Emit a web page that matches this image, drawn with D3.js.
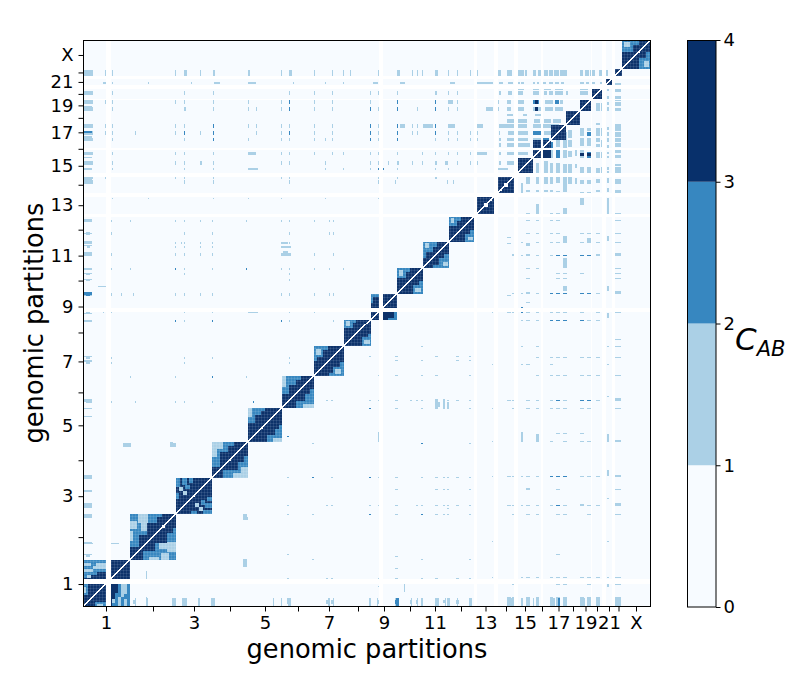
<!DOCTYPE html>
<html><head><meta charset="utf-8">
<script src="https://cdn.jsdelivr.net/npm/d3@7"></script>
<style>html,body{margin:0;background:#fff}text{font-family:"DejaVu Sans",sans-serif;fill:#000}</style>
</head><body><div id="c"></div>
<script>
const partitions = 568, binSize = 1;
const chromNames = ["1","","3","","5","","7","","9","","11","","13","","15","","17","","19","","21","","X"];
const chromCentres = [23,70,111,147,182,215,246,275,301,327,352,378,402.5,423,442,459,475.5,490,502.5,514,526,535.5,553];
const cbTicks = [0,1,2,3,4];
const blocks = [[0,23,0,23],[0,23,28,47],[28,47,28,47],[47,93,47,93],[93,129,93,129],[129,165,129,165],[165,199,165,199],[199,231,199,231],[231,261,231,261],[261,288,261,288],[288,296,288,296],[288,296,300,314],[300,314,300,314],[314,340,314,340],[340,366,340,366],[366,391,366,391],[394,411,394,411],[415,431,415,431],[435,450,435,450],[450,458,450,458],[450,458,460,468],[460,468,460,468],[468,483,468,483],[483,497,483,497],[497,508,497,508],[509,519,509,519],[523,529,523,529],[532,539,532,539],[539,568,539,568]];
// [x0,x1,y0,y1,level] lighter patches inside the chromosome blocks
const patches = [[0,23,44,47,2],[0,8,41,44,1],[8,13,41,44,2],[13,23,41,44,1],[0,10,38,41,2],[10,23,38,41,1],[0,10,35,38,1],[10,23,35,38,2],[0,14,32,35,2],[0,4,29,32,2],[4,8,29,32,1],[0,5,12,23,2],[0,3,14,20,1],
[47,56,60,72,2],[47,64,72,93,2],[64,74,84,93,2],[74,79,90,93,2],[55,65,84,93,1],[47,54,78,86,1],[58,64,76,84,1],[47,50,66,76,1],
[93,97,120,129,2],[99,104,122,129,2],[96,100,116,120,1],[106,110,124,129,2],[93,96,108,114,2],[100,104,112,116,1],[102,107,118,122,2],
[129,137,140,165,2],[137,145,155,165,2],[145,151,161,165,2],[129,134,150,165,1],[134,140,158,165,1],
[165,172,184,199,2],[172,178,192,199,2],[165,169,190,199,1],[178,182,196,199,2],
[199,206,213,231,2],[206,213,222,231,2],[199,203,220,231,1],[213,218,227,231,2],
[231,240,250,261,2],[233,238,252,258,1],[240,245,257,261,2],[231,234,246,250,2],
[261,270,279,288,2],[263,267,281,287,1],[270,273,285,288,2],
[288,296,311,314,2],[288,290,305,311,2],
[314,323,330,340,2],[316,320,332,338,1],[323,327,336,340,2],
[340,350,356,366,2],[342,346,360,365,1],[350,354,361,366,2],[340,343,350,356,2],
[366,374,382,391,2],[368,371,385,390,1],[374,378,387,391,2],
[539,550,556,568,2],[541,547,561,566,1],[550,556,563,568,2]];
// [row0,row1,[light single columns],[medium single columns],[[c0,c1,level] spans]]
const contacts = [
[532,538,[22,29,92,117,198,231,249,260,267,295,329,334,339,365,374,387,394],[],[[0,10,1],[101,104,1],[130,132,1],[165,167,1],[206,209,1],[314,317,1],[352,355,1],[415,418,1],[424,429,1],[435,441,1],[442,444,1],[450,453,1],[455,458,1],[461,465,1],[466,470,1],[471,476,1],[477,484,1],[497,500,1],[502,506,1],[507,512,1],[516,519,1],[523,525,1]]],
[524,526,[29,65,108,242,260,210],[],[[20,23,1],[131,137,1],[165,173,1],[290,295,1],[317,322,1],[367,372,1],[394,410,1],[416,420,1],[425,430,1],[435,437,1],[438,441,1],[450,452,1],[454,456,1],[460,463,1],[466,470,1],[472,476,1],[478,481,1],[497,501,1],[503,506,1],[508,512,1],[517,519,1]]],
[518,521,[],[],[[435,441,1],[450,456,1],[461,468,1],[472,480,1],[497,505,1]]],
[513,517,[29,101,130,206,231,249,287,295,314,365,374],[],[[0,10,1],[352,354,1],[416,418,1],[425,429,1],[435,440,1],[450,456,1],[461,464,1],[466,470,1],[472,480,1],[483,485,1],[497,505,1]]],
[504,508,[22,29,92,101,130,165,198,231,249,287,365,374,415],[206,314,352],[[0,10,1],[366,370,1],[424,428,1],[435,441,1],[450,456,2],[452,455,3],[462,470,1],[472,476,2],[477,480,1]]],
[497,501,[29,130,165,173,198,231,249,295,334,365,374,415],[206,287,314,352],[[0,10,1],[101,103,1],[403,410,1],[424,428,1],[435,441,1],[450,458,1],[452,455,3],[462,470,1],[472,480,1]]],
[492,494,[],[],[[424,430,1],[440,444,1],[452,458,1]]],
[485,489,[],[],[[424,432,1],[435,444,1],[451,457,1],[461,468,1],[470,478,1]]],
[480,484,[22,29,92,101,165,173,198,206,231,249,295,329,334],[130,352,287,314],[[0,10,1],[317,322,1],[340,350,1],[365,372,1],[394,400,1],[416,425,1],[424,433,1],[435,444,1],[450,476,1]]],
[473,477,[22,29,52,92,117,173,198,231,249,295,329,334,365,374,387,394,416],[101,130,206,287,314,352],[[0,10,1],[425,432,1],[435,445,1],[450,458,2],[461,468,1]]],
[467,470,[29,101,165,198,206,231,242,249,295,352,365,374,387,394],[130,287,314],[[0,10,1],[416,418,1],[424,432,1],[435,445,1],[450,458,1],[460,466,2]]],
[461,465,[],[],[[416,418,1],[424,432,1],[435,447,1]]],
[453,456,[29,92,101,130,198,206,231,249,260,287,295,314,339,352,365,374,387],[],[[0,10,1],[165,173,1],[394,404,1],[416,418,1],[424,432,1],[435,445,1]]],
[443,447,[29,92,101,130,198,206,242,287,295,305,329,339,374,387,394],[],[[0,10,1],[117,119,1],[314,316,1],[352,354,1],[362,365,1],[416,418,1],[424,432,1]]],
[438,440,[29,101,130,242,260,287,314,352,365],[295,300],[[0,9,1],[165,175,1],[415,425,1]]],
[429,431,[22,92,101,130,198,206,295,314],[],[[0,10,1],[352,354,1]]],
[424,428,[101,130,206,295,312,364,370],[],[[3,6,1],[0,10,1]]],
[409,410,[29,65,130,165,198,242,295],[],[]],
[386,388,[28,47,92,101,117,129,163,198,206,231,246,250],[],[[0,9,1]]],
[373,376,[28,101,129,206,246,250],[],[[3,7,1]]],
[364,366,[92,98,101,117,129,206],[],[[0,9,1],[198,205,1]]],
[360,362,[92,101,117,129],[],[[4,7,1],[198,208,1]]],
[352,355,[28,92,101,117,129,231,250],[],[[0,9,1],[198,208,1]]],
[338,340,[28,47,101,129,198,206,231,246,260],[92,163],[[0,9,1]]],
[333,335,[101,206],[],[[3,7,1]]],
[327,329,[206],[],[[3,7,1]]],
[321,322,[],[],[[15,24,1]]],
[312,315,[28,38,50,92,101,117,129,198,206,231,246,250],[],[[0,9,1],[3,7,2]]],
[295,296,[20,28,101,129,206,231],[],[[3,7,1],[165,175,1]]],
[286,288,[101,206,250],[129,198,92],[[0,9,1]]],
[248,250,[28,101,129,206],[],[[3,7,1]]],
[243,245,[28,101,206],[],[[3,7,1]]],
[229,231,[47,92,163],[129],[]],
[204,206,[28,52,92,101,129],[170],[[3,9,1]]],
[200,205,[],[],[[353,357,1]]],
[160,164,[],[],[[40,48,1],[87,93,1]]],
[87,90,[],[],[[160,165,1]]],
[128,130,[],[],[[0,9,1]]],[115,116,[],[],[[0,9,1]]],[99,102,[],[],[[0,9,1]]],[89,91,[],[],[[0,9,1]]],
[63,64,[],[],[[0,10,1],[28,36,1]]],[50,52,[],[],[[3,7,1]]],
[0,9,[52,64,116,190,198,250,286,294,328,334,339,362,366,374,431,439,450,454,480,505],[],[[91,93,1],[101,104,1],[129,132,1],[205,208,1],[245,247,1],[313,316,2],[353,356,1],[386,389,1],[424,429,1],[444,447,1],[467,472,1],[475,477,2],[497,502,1],[515,517,1],[534,538,1]]]
];
// white, unmapped stretches of the genome
const gaps = [[23,28],[296,300],[391,394],[411,415],[431,435],[458,460],[508,509],[519,523],[529,532]];
const diagSpots = [[79,82],[401,405],[421,425],[407,409],[417,419],[110,112],[146,148],[178,180],[555,557]];
const bandColors = ["#f7fbff","#abd0e6","#3787c0","#08306b"];

const margin = {left:83, top:40, w:568, h:567};
const n = partitions/binSize;
const x = d3.scaleLinear().domain([0,partitions]).range([margin.left, margin.left+margin.w]);
const y = d3.scaleLinear().domain([0,partitions]).range([margin.top+margin.h, margin.top]);
const color = d3.scaleThreshold().domain([1,2,3]).range(bandColors);

const M = Array.from({length:n},()=>new Float32Array(n));
function fill(x0,x1,y0,y1,v,onlyMax){
  for(let i=Math.floor(x0/binSize);i<Math.ceil(x1/binSize)&&i<n;i++)
    for(let j=Math.floor(y0/binSize);j<Math.ceil(y1/binSize)&&j<n;j++){
      if(onlyMax&&M[j][i]>=v) continue;
      M[j][i]=v; M[i][j]=v;
    }
}
contacts.forEach(([r0,r1,light,medium,spans])=>{
  light.forEach(c=>fill(c,c+binSize,r0,r1,1,true));
  medium.forEach(c=>fill(c,c+binSize,r0,r1,2,true));
  spans.forEach(([a,b,v])=>{ if(v>0) fill(a,b,r0,r1,v,true); });
});
blocks.forEach(b=>fill(b[0],b[1],b[2],b[3],3));
patches.forEach(p=>fill(p[0],p[1],p[2],p[3],p[4]));
gaps.forEach(g=>{fill(g[0],g[1],0,partitions,-1);});
for(let i=0;i<n;i++){ M[i][i]=-1; if(i+1<n){M[i+1][i]=-1;} }
diagSpots.forEach(([a,b])=>{for(let i=a/binSize;i<b/binSize;i++)for(let j=a/binSize;j<b/binSize;j++)M[j][i]=-1;});

const runs=[];
for(let j=0;j<n;j++){let i=0;while(i<n){const v=M[j][i];let k=i+1;while(k<n&&M[j][k]===v)k++;if(v!==0)runs.push({row:j,c0:i,c1:k,v});i=k;}}

const svg=d3.select("#c").append("svg").attr("width",800).attr("height",675).style("display","block");
const defs=svg.append("defs");
defs.append("clipPath").attr("id","pc").append("rect").attr("x",margin.left).attr("y",margin.top).attr("width",margin.w).attr("height",margin.h);
defs.append("filter").attr("id","soft").attr("x",0).attr("y",0).attr("width",1).attr("height",1)
  .append("feGaussianBlur").attr("stdDeviation",0.55);
const pat=defs.append("pattern").attr("id","lattice").attr("width",3).attr("height",3).attr("patternUnits","userSpaceOnUse");
pat.append("path").attr("d","M0 .5H3M.5 0V3").attr("stroke","#fff").attr("stroke-opacity",.1).attr("stroke-width",1).attr("fill","none");
const plot=svg.append("g").attr("clip-path","url(#pc)").append("g").attr("filter","url(#soft)");
plot.append("rect").attr("x",margin.left).attr("y",margin.top).attr("width",margin.w).attr("height",margin.h).attr("fill",bandColors[0]);
plot.selectAll("rect.c").data(runs).join("rect").attr("class","c")
  .attr("x",d=>x(d.c0*binSize)).attr("width",d=>x(d.c1*binSize)-x(d.c0*binSize))
  .attr("y",d=>y((d.row+1)*binSize)).attr("height",d=>y(d.row*binSize)-y((d.row+1)*binSize))
  .attr("fill",d=>d.v<0?"#fff":color(d.v)).attr("shape-rendering","crispEdges");
plot.selectAll("rect.l").data(blocks).join("rect").attr("class","l")
  .attr("x",d=>x(d[0])).attr("width",d=>x(d[1])-x(d[0])).attr("y",d=>y(d[3])).attr("height",d=>y(d[2])-y(d[3])).attr("fill","url(#lattice)");

const labelOf=d3.scaleOrdinal(chromCentres,chromNames);
const ax=d3.axisBottom(x).tickValues(chromCentres).tickFormat(d=>labelOf(d)).tickSize(4.5).tickPadding(5);
const ay=d3.axisLeft(y).tickValues(chromCentres).tickFormat(d=>labelOf(d)).tickSize(4.5).tickPadding(5);
const gx=svg.append("g").attr("transform",`translate(0,${margin.top+margin.h})`).call(ax);
const gy=svg.append("g").attr("transform",`translate(${margin.left},0)`).call(ay);
[gx,gy].forEach(g=>{g.selectAll("text").style("font-size","18px").attr("fill","#000");g.select(".domain").remove();g.selectAll("line").attr("stroke","#000").attr("stroke-width",1);});
svg.append("rect").attr("x",margin.left+.5).attr("y",margin.top+.5).attr("width",margin.w-1).attr("height",margin.h-1).attr("fill","none").attr("stroke","#000").attr("stroke-width",1);

svg.append("text").attr("x",367).attr("y",658).attr("text-anchor","middle").style("font-size","25.7px").text("genomic partitions");
svg.append("text").attr("transform","translate(43,323) rotate(-90)").attr("text-anchor","middle").style("font-size","25.7px").text("genomic partitions");

// colour bar
const cb=d3.scaleLinear().domain([0,4]).range([607,40]);
svg.append("g").selectAll("rect").data(d3.range(4)).join("rect")
  .attr("x",687).attr("width",29).attr("y",d=>cb(d+1)).attr("height",d=>cb(d)-cb(d+1)).attr("fill",d=>color(d+.5));
svg.append("rect").attr("x",687.5).attr("y",40.5).attr("width",28.5).attr("height",566.5).attr("fill","none").attr("stroke","#000");
const gc=svg.append("g").attr("transform","translate(716,0)").call(d3.axisRight(cb).tickValues(cbTicks).tickFormat(d3.format("d")).tickSize(4.5).tickPadding(3));
gc.select(".domain").remove();gc.selectAll("line").attr("stroke","#000");gc.selectAll("text").style("font-size","18px").attr("fill","#000");
const lab=svg.append("text").attr("x",735).attr("y",350).style("font-style","italic").style("font-size","31px");
lab.append("tspan").text("C");
lab.append("tspan").attr("dy",6).style("font-size","21px").text("AB");
</script></body></html>
